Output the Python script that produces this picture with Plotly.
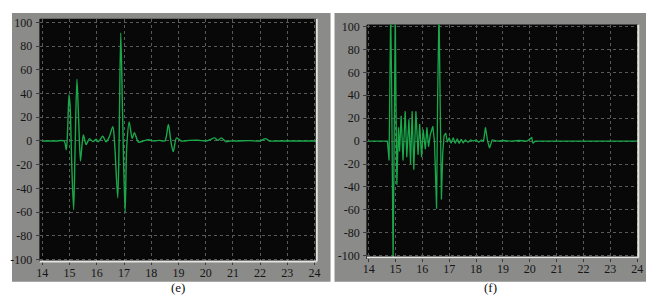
import plotly.graph_objects as go

# ---- data: panel (e) ----
e_x = [14.0, 14.5, 14.80, 14.88, 14.93, 14.98, 15.02, 15.08, 15.15, 15.20, 15.27, 15.33, 15.40, 15.45,
       15.51, 15.61, 15.73, 15.86, 15.98, 16.04, 16.12, 16.22, 16.34, 16.45, 16.59, 16.65, 16.77, 16.82,
       16.88, 16.95, 17.04, 17.10, 17.19, 17.30, 17.38, 17.53, 17.7, 17.9, 18.1, 18.3, 18.5, 18.63, 18.72,
       18.81, 18.93, 19.1, 19.4, 19.72, 20.0, 20.15, 20.33, 20.45, 20.57, 20.75, 20.9, 21.2, 21.6, 22.0,
       22.2, 22.35, 22.7, 23.2, 23.7, 24.1]
e_y = [0, 0, 0, -7.5, 10, 39, 30, -20, -58, -10, 52, 20, -17, -5,
       5, -3, 2, -0.6, 1.5, -0.7, 1, 4, -0.7, 3, 12, 0, -48, 0,
       91, 20, -60, -5, 16, 2, 7, -1, 0, 1, 0, 0.5, 0, 14, 0,
       -9, 2.6, 0, 0.5, 0.6, 0, 1, 2.6, 0.5, 2.6, -0.7, 0, 0, 0.3, 0,
       2, 0, 0, 0, 0, 0]

# ---- data: panel (f) ----
f_x = [14.0, 14.5, 14.70, 14.76, 14.80, 14.82, 14.85, 14.88, 14.91, 14.95, 14.99, 15.02, 15.05,
       15.11, 15.15, 15.21, 15.28, 15.36, 15.42, 15.50, 15.56, 15.62, 15.68, 15.76, 15.84, 15.90,
       15.97, 16.03, 16.11, 16.17, 16.23, 16.30, 16.39, 16.45, 16.53, 16.57, 16.62, 16.66, 16.71,
       16.76, 16.81, 16.87, 16.93, 17.0, 17.07, 17.15, 17.22, 17.3, 17.37, 17.45, 17.52, 17.6, 17.7,
       17.8, 17.9, 18.0, 18.1, 18.2, 18.28, 18.35, 18.43, 18.5, 18.6, 18.8, 19.0, 19.3, 19.6, 19.9,
       20.0, 20.07, 20.12, 20.2, 20.5, 21.0, 22.0, 23.0, 24.04]
f_y = [0, 0, 0, -17, 60, 115, 60, -60, -105, 0, 115, 30, -38,
       12, -9, 22, -17, 26, -14, 19, -20, 26, -25, 26, -12, 15,
       -14, 10, -7, 12, -5, 6, 13, 0, -59, 40, 115, 40, -51,
       -10, 5, 7, -1, 3, -2, 3, -2, 2, -2, 1.5, -1.5, 1, -1,
       1, 0, 1, -1, 1, 0, 12, 0, -6, 1, 0, 0.5, 0, 0.5, 0,
       2, 3, -2, 0, 0, 0, 0, 0, 0]

x_ticks = list(range(14, 25))
x_labels = [str(v) for v in x_ticks]
y_ticks = list(range(-100, 101, 20))
y_labels = [str(v) for v in y_ticks]
captions = ["(e)", "(f)"]

W, H = 654, 301
GREEN = "#1aa84b"
FONT = "Times New Roman, Liberation Serif, DejaVu Serif, serif"

fig = go.Figure()
fig.add_trace(go.Scatter(x=e_x, y=e_y, mode="lines", line=dict(color=GREEN, width=1.4, shape="spline", smoothing=0.8),
                         xaxis="x", yaxis="y", showlegend=False, hoverinfo="skip"))
fig.add_trace(go.Scatter(x=f_x, y=f_y, mode="lines", line=dict(color=GREEN, width=1.3),
                         xaxis="x2", yaxis="y2", showlegend=False, hoverinfo="skip"))

def px(v):
    return v / W

def py(v):
    return 1 - v / H

ax_common = dict(showgrid=True, gridcolor="#5a5a5a", griddash="dot", gridwidth=1, zeroline=False,
                 showline=True, linecolor="#3a3a3a", linewidth=1, ticks="outside", ticklen=3,
                 tickcolor="#3a3a3a", tickfont=dict(family=FONT, size=12, color="#151515"))

fig.update_layout(
    width=W, height=H, margin=dict(l=0, r=0, t=0, b=0),
    paper_bgcolor="white", plot_bgcolor="#080808",
    xaxis=dict(domain=[px(28), px(309)], range=[13.9, 24.08], tickvals=x_ticks, ticktext=x_labels,
               anchor="y", ticklabelstandoff=-3, **ax_common),
    yaxis=dict(domain=[py(257), py(6)], range=[-101.6, 103], tickvals=y_ticks, ticktext=y_labels,
               anchor="x", ticklabelstandoff=1, **ax_common),
    xaxis2=dict(domain=[px(360), px(635)], range=[13.94, 24.04], tickvals=x_ticks, ticktext=x_labels,
                anchor="y2", ticklabelstandoff=-3, **ax_common),
    yaxis2=dict(domain=[py(253), py(12)], range=[-101.7, 101.7], tickvals=y_ticks, ticktext=y_labels,
                anchor="x2", ticklabelstandoff=1, **ax_common),
)

shapes = [
    dict(type="rect", xref="paper", yref="paper", x0=0, x1=px(323), y0=py(278), y1=1,
         fillcolor="#8b8b89", line=dict(width=0), layer="below"),
    dict(type="rect", xref="paper", yref="paper", x0=px(327), x1=px(652), y0=py(278), y1=1,
         fillcolor="#8b8b89", line=dict(width=0), layer="below"),
]
for xr, yr in (("x domain", "y domain"), ("x2 domain", "y2 domain")):
    shapes.append(dict(type="rect", xref=xr, yref=yr, x0=0, x1=1, y0=0, y1=1,
                       fillcolor="#080808", line=dict(width=0), layer="below"))
for xr, yr in (("x domain", "y domain"), ("x2 domain", "y2 domain")):
    shapes.append(dict(type="line", xref=xr, yref=yr, x0=0, x1=1, y0=0, y1=0,
                       line=dict(color="#e4e4e0", width=2)))
    shapes.append(dict(type="line", xref=xr, yref=yr, x0=1, x1=1, y0=0, y1=1,
                       line=dict(color="#e4e4e0", width=2)))
fig.update_layout(shapes=shapes)

fig.add_annotation(x=px(159), y=py(294), xref="paper", yref="paper", text=captions[0], showarrow=False,
                   font=dict(family=FONT, size=13, color="#111"))
fig.add_annotation(x=px(494), y=py(294), xref="paper", yref="paper", text=captions[1], showarrow=False,
                   font=dict(family=FONT, size=13, color="#111"))

fig.write_html("out.html")
